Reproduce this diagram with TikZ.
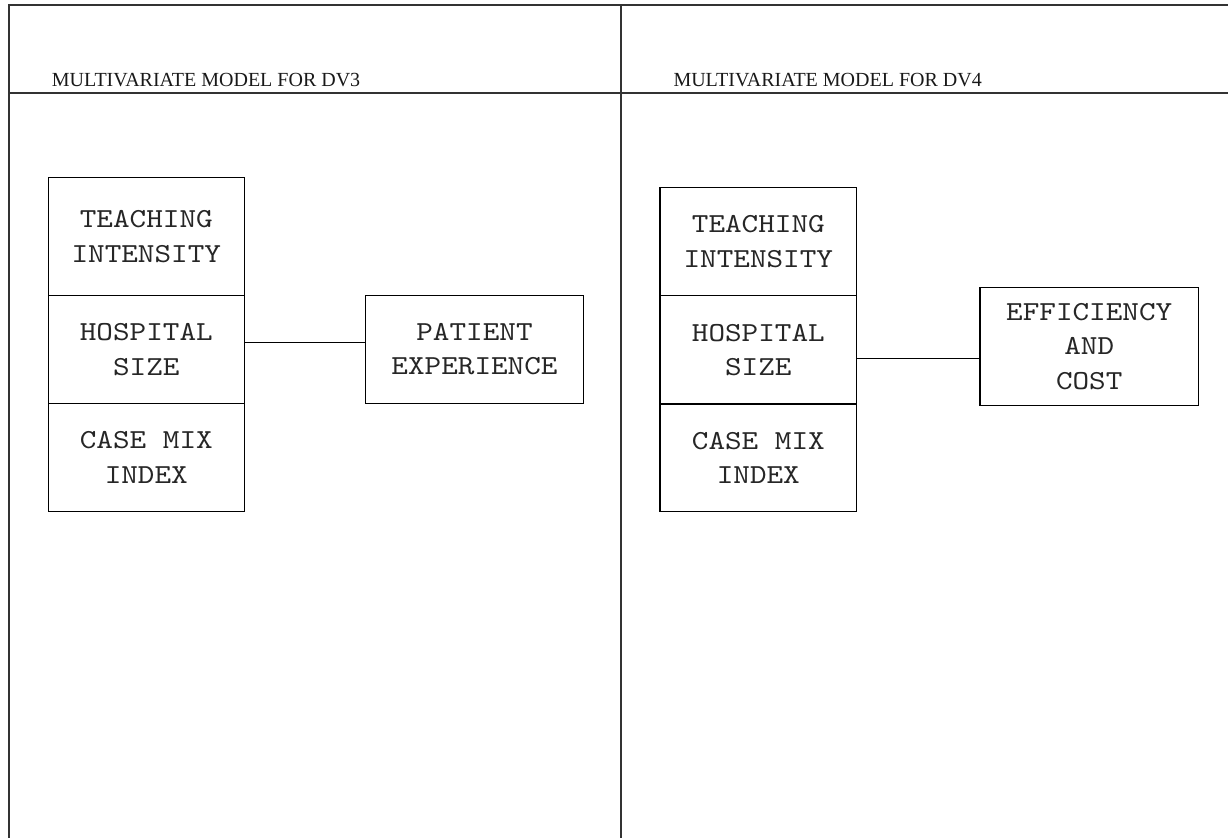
\documentclass[tikz,border=0pt]{standalone}
\usepackage{fontspec}
\setmainfont{Liberation Serif}
\newfontfamily\monof{lmmono10-regular.otf}[FakeStretch=1.15]
\begin{document}
\begin{tikzpicture}[x=1pt,y=-1pt,
  frame/.style={draw=black!80, line width=2pt},
  cell/.style={draw=black, line width=1.4pt, inner sep=0pt, align=center,
    font=\monof\fontsize{27.5}{34.5}\selectfont, text=black!85},
  heading/.style={font=\fontsize{20}{22}\selectfont, anchor=base west, inner sep=0pt, text=black!90},
  link/.style={draw=black, line width=1.4pt}]
\useasboundingbox (0,0) rectangle (1228,838);
% frame
\draw[frame] (1228,4.5) -- (8.5,4.5) -- (8.5,838);
\draw[frame] (8.5,92.7) -- (1228,92.7);
\draw[frame] (621,4.5) -- (621,838);
% headings
\node[heading] (h3) at (51.7,86.5) {MULTIVARIATE MODEL FOR DV3};
\node[heading] (h4) at (673.3,86.5) {MULTIVARIATE MODEL FOR DV4};
% left model
\node[cell, minimum width=196pt, minimum height=118.4pt] (tA) at (146.3,236.5) {TEACHING\\INTENSITY};
\node[cell, minimum width=196pt, minimum height=107.6pt] (hA) at (146.3,349.5) {HOSPITAL\\SIZE};
\node[cell, minimum width=196pt, minimum height=108.4pt] (cA) at (146.3,457.5) {CASE MIX\\INDEX};
\node[cell, minimum width=217.6pt, minimum height=108pt] (pA) at (474.5,349.3) {PATIENT\\EXPERIENCE};
\draw[link] ([yshift=7pt]hA.east) -- ([yshift=7pt]hA.east -| pA.west);
% right model
\node[cell, minimum width=196.7pt, minimum height=108.4pt] (tB) at (758.3,241.5) {TEACHING\\INTENSITY};
\node[cell, minimum width=196.7pt, minimum height=108.3pt] (hB) at (758.3,349.85) {HOSPITAL\\SIZE};
\node[cell, minimum width=196.7pt, minimum height=107.7pt] (cB) at (758.3,457.85) {CASE MIX\\INDEX};
\node[cell, minimum width=218.3pt, minimum height=118pt] (eB) at (1089.2,346.3) {EFFICIENCY\\AND\\COST};
\draw[link] ([yshift=-8.5pt]hB.east) -- ([yshift=-8.5pt]hB.east -| eB.west);
\end{tikzpicture}
\end{document}
